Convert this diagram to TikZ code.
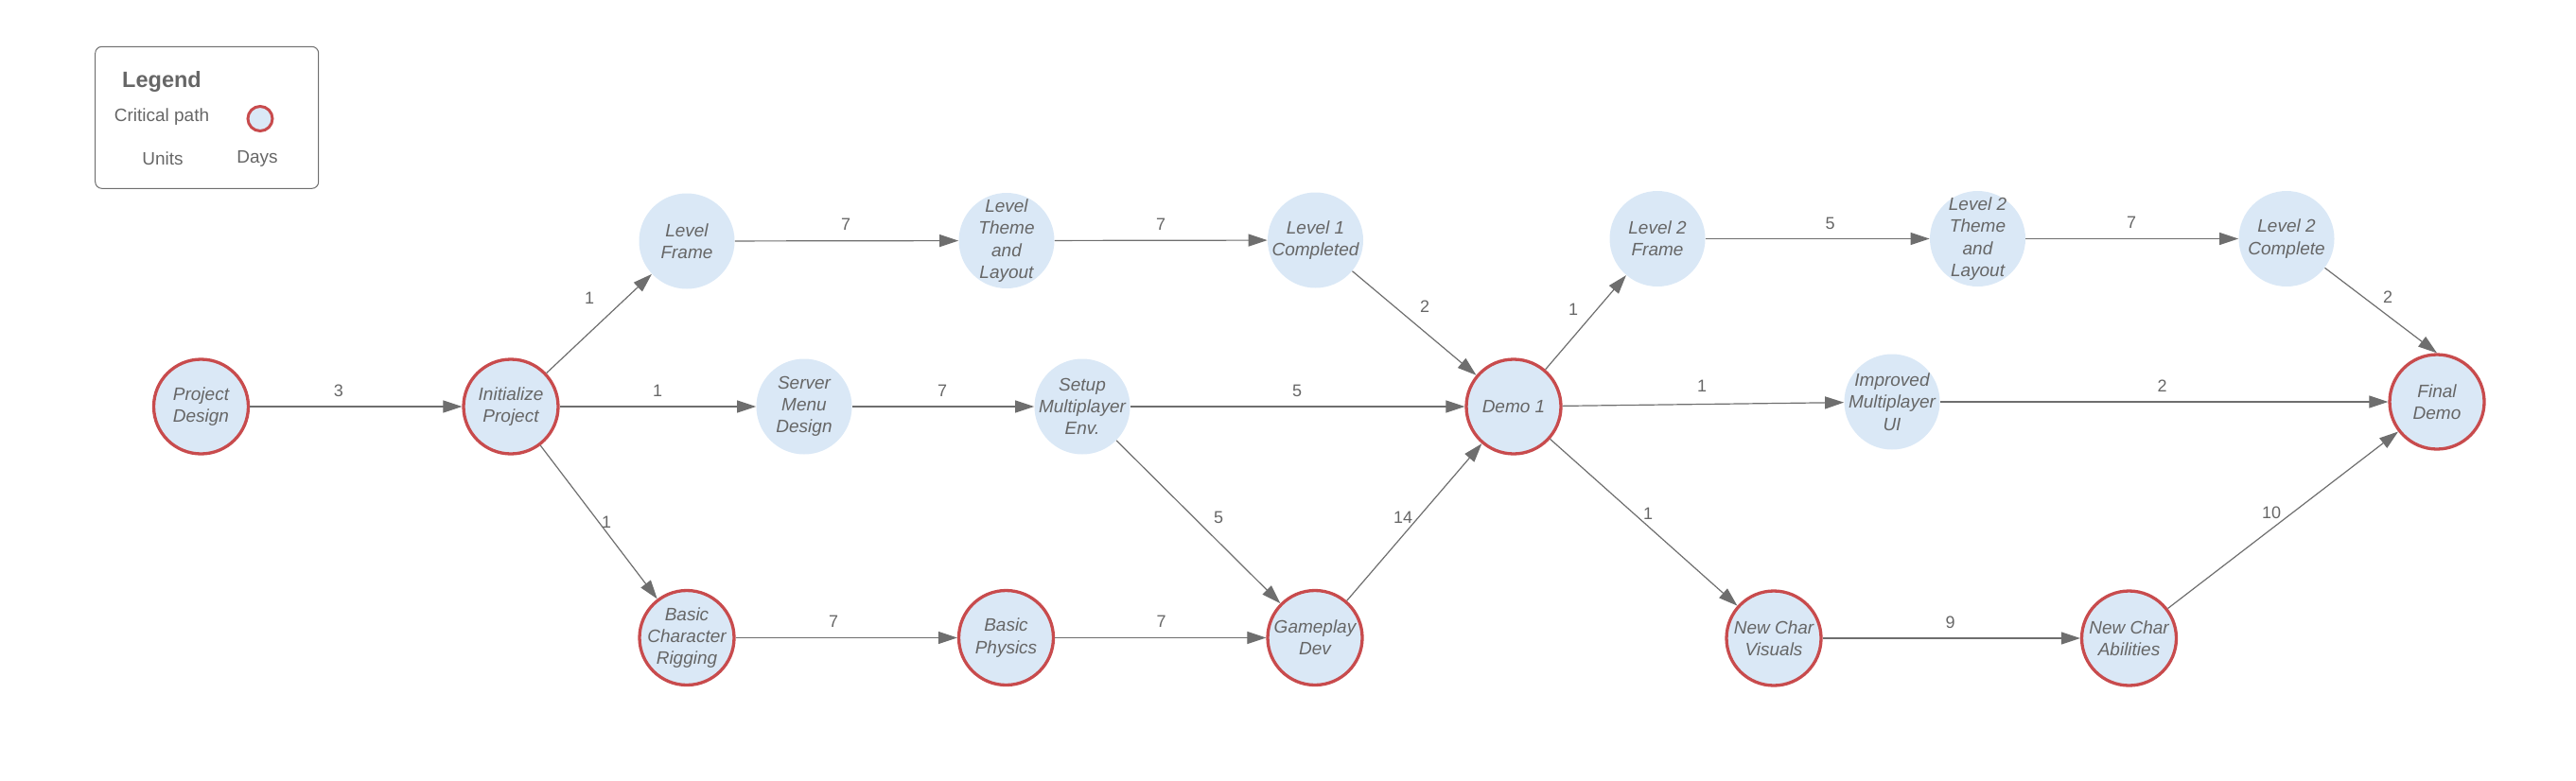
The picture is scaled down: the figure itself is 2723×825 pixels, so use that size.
\documentclass[tikz,border=0pt]{standalone}
\usepackage{fontspec}
\setmainfont{Liberation Sans}
\usetikzlibrary{arrows.meta}
\definecolor{critred}{HTML}{C84B4D}
\definecolor{nodeblue}{HTML}{DAE8F6}
\definecolor{linegray}{HTML}{6E6E6E}
\definecolor{textgray}{HTML}{666666}
\tikzset{
  plainnode/.style={circle, fill=nodeblue, minimum size=50.5pt, inner sep=0pt},
  critnode/.style={circle, fill=nodeblue, draw=critred, line width=1.65pt, minimum size=50pt, inner sep=0pt},
  txt/.style={font=\fontsize{9.5pt}{11.6pt}\selectfont\itshape, text=textgray, align=center, inner sep=0pt},
  lbl/.style={font=\fontsize{9pt}{10pt}\selectfont, text=textgray, inner sep=0pt},
  legtxt/.style={font=\fontsize{9.5pt}{11pt}\selectfont, text=textgray, inner sep=0pt},
  arr/.style={draw=linegray, line width=0.6pt, -{Triangle[length=10pt,width=6.5pt]}},
}
\begin{document}
\begin{tikzpicture}[x=0.5pt,y=-0.5pt]
\useasboundingbox (0,0) rectangle (2723,825);
% legend
\node[draw=linegray, line width=0.5pt, rounded corners=3.5pt, minimum width=118pt, minimum height=75pt, inner sep=0pt] (legbox) at (218.7,124.3) {};
\node[legtxt, font=\fontsize{11.75pt}{13pt}\selectfont\bfseries] (legtitle) at (171,86) {Legend};
\node[legtxt] (legcrit) at (171,124) {Critical path};
\node[circle, fill=nodeblue, draw=critred, line width=1.5pt, minimum size=13pt, inner sep=0pt] (legcirc) at (275,125.5) {};
\node[legtxt] (legunits) at (172,168) {Units};
\node[legtxt] (legdays) at (272,168) {Days};
% nodes
\node[critnode] (pd) at (212.5,430) {};
\node[txt] (pdt) at (pd) {Project\\Design};
\node[critnode] (ip) at (540,430) {};
\node[txt] (ipt) at (ip) {Initialize\\Project};
\node[plainnode] (lf) at (726,255) {};
\node[txt] (lft) at (lf) {Level\\Frame};
\node[plainnode] (ltl) at (1064,254.5) {};
\node[txt] (ltlt) at (ltl) {Level\\Theme\\and\\Layout};
\node[plainnode] (l1c) at (1390.5,254) {};
\node[txt] (l1ct) at (l1c) {Level 1\\Completed};
\node[plainnode] (smd) at (850,430) {};
\node[txt] (smdt) at (smd) {Server\\Menu\\Design};
\node[plainnode] (sme) at (1144,430) {};
\node[txt] (smet) at (sme) {Setup\\Multiplayer\\Env.};
\node[critnode] (bcr) at (726,674.5) {};
\node[txt] (bcrt) at (bcr) {Basic\\Character\\Rigging};
\node[critnode] (bp) at (1063.5,674.5) {};
\node[txt] (bpt) at (bp) {Basic\\Physics};
\node[critnode] (gd) at (1390,674.5) {};
\node[txt] (gdt) at (gd) {Gameplay\\Dev};
\node[critnode] (d1) at (1600,430) {};
\node[txt] (d1t) at (d1) {Demo 1};
\node[plainnode] (l2f) at (1752,252.5) {};
\node[txt] (l2ft) at (l2f) {Level 2\\Frame};
\node[plainnode] (l2t) at (2090.5,252.5) {};
\node[txt] (l2tt) at (l2t) {Level 2\\Theme\\and\\Layout};
\node[plainnode] (l2c) at (2417,252.5) {};
\node[txt] (l2ct) at (l2c) {Level 2\\Complete};
\node[plainnode] (imu) at (2000,425) {};
\node[txt] (imut) at (imu) {Improved\\Multiplayer\\UI};
\node[critnode] (fd) at (2576,425) {};
\node[txt] (fdt) at (fd) {Final\\Demo};
\node[critnode] (ncv) at (1875,675) {};
\node[txt] (ncvt) at (ncv) {New Char\\Visuals};
\node[critnode] (nca) at (2250.5,675) {};
\node[txt] (ncat) at (nca) {New Char\\Abilities};
% edges
\draw[arr] (pd) -- (ip);
\draw[arr] (ip) -- (lf);
\draw[arr] (ip) -- (smd);
\draw[arr] (ip) -- (bcr);
\draw[arr] (lf) -- (ltl);
\draw[arr] (ltl) -- (l1c);
\draw[arr] (l1c) -- (d1);
\draw[arr] (smd) -- (sme);
\draw[arr] (sme) -- (d1);
\draw[arr] (sme) -- (gd);
\draw[arr] (bcr) -- (bp);
\draw[arr] (bp) -- (gd);
\draw[arr] (gd) -- (d1);
\draw[arr] (d1) -- (l2f);
\draw[arr] (d1) -- (imu);
\draw[arr] (d1) -- (ncv);
\draw[arr] (l2f) -- (l2t);
\draw[arr] (l2t) -- (l2c);
\draw[arr] (l2c) -- (fd.north);
\draw[arr] (imu) -- (fd);
\draw[arr] (ncv) -- (nca);
\draw[arr] (nca) -- (fd);
% edge labels
\node[lbl] (e1) at (358,413) {3};
\node[lbl] (e2) at (623,315) {1};
\node[lbl] (e3) at (695,413) {1};
\node[lbl] (e4) at (641,552) {1};
\node[lbl] (e5) at (894,237.5) {7};
\node[lbl] (e6) at (1227,237) {7};
\node[lbl] (e7) at (1506,324) {2};
\node[lbl] (e8) at (996,413) {7};
\node[lbl] (e9) at (1371,413) {5};
\node[lbl] (e10) at (1288,547) {5};
\node[lbl] (e11) at (881,657) {7};
\node[lbl] (e12) at (1227.5,657) {7};
\node[lbl] (e13) at (1483,547) {14};
\node[lbl] (e14) at (1663,327) {1};
\node[lbl] (e15) at (1799,408) {1};
\node[lbl] (e16) at (1742,543) {1};
\node[lbl] (e17) at (1934.5,236) {5};
\node[lbl] (e18) at (2253,235) {7};
\node[lbl] (e19) at (2524,314) {2};
\node[lbl] (e20) at (2285.5,408) {2};
\node[lbl] (e21) at (2061.5,658) {9};
\node[lbl] (e22) at (2401,542) {10};
\end{tikzpicture}
\end{document}
